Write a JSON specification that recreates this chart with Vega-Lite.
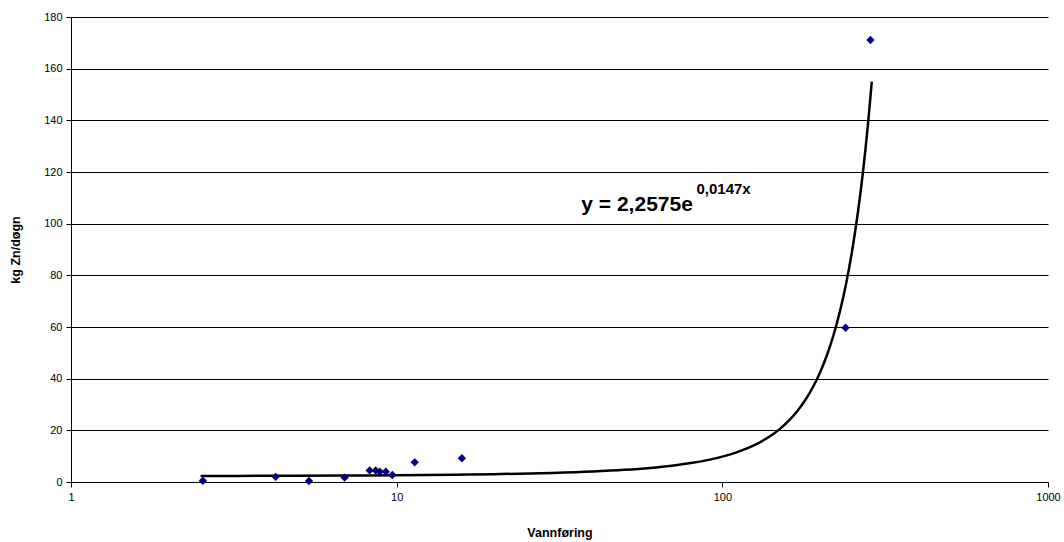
{
  "$schema": "https://vega.github.io/schema/vega-lite/v6.json",
  "width": 977,
  "height": 465,
  "autosize": "none",
  "padding": {"left": 71, "top": 17, "right": 16, "bottom": 60},
  "background": "white",
  "config": {
    "view": {"stroke": null},
    "font": "Liberation Sans",
    "axis": {"labelFont": "Liberation Sans", "titleFont": "Liberation Sans", "labelColor": "#000", "titleColor": "#000"}
  },
  "datasets": {
    "obs": [
      {"q": 2.54, "zn": 0.5},
      {"q": 4.25, "zn": 2.0},
      {"q": 5.38, "zn": 0.4},
      {"q": 6.92, "zn": 1.7},
      {"q": 8.26, "zn": 4.5},
      {"q": 8.62, "zn": 4.5},
      {"q": 8.87, "zn": 4.0},
      {"q": 9.26, "zn": 4.0},
      {"q": 9.7, "zn": 2.7},
      {"q": 11.36, "zn": 7.6},
      {"q": 15.86, "zn": 9.2},
      {"q": 239, "zn": 59.7},
      {"q": 285, "zn": 171.1}
    ],
    "trend": [
      {"q": 2.5, "zn": 2.342},
      {"q": 3, "zn": 2.359},
      {"q": 4, "zn": 2.394},
      {"q": 5, "zn": 2.43},
      {"q": 7, "zn": 2.502},
      {"q": 10, "zn": 2.615},
      {"q": 15, "zn": 2.814},
      {"q": 20, "zn": 3.029},
      {"q": 30, "zn": 3.509},
      {"q": 40, "zn": 4.064},
      {"q": 50, "zn": 4.708},
      {"q": 60, "zn": 5.453},
      {"q": 70, "zn": 6.317},
      {"q": 80, "zn": 7.318},
      {"q": 90, "zn": 8.476},
      {"q": 100, "zn": 9.818},
      {"q": 110, "zn": 11.373},
      {"q": 120, "zn": 13.174},
      {"q": 130, "zn": 15.26},
      {"q": 140, "zn": 17.677},
      {"q": 150, "zn": 20.476},
      {"q": 160, "zn": 23.718},
      {"q": 170, "zn": 27.474},
      {"q": 180, "zn": 31.824},
      {"q": 190, "zn": 36.865},
      {"q": 200, "zn": 42.703},
      {"q": 210, "zn": 49.464},
      {"q": 220, "zn": 57.298},
      {"q": 230, "zn": 66.371},
      {"q": 240, "zn": 76.882},
      {"q": 250, "zn": 89.056},
      {"q": 260, "zn": 103.16},
      {"q": 270, "zn": 119.49},
      {"q": 280, "zn": 138.42},
      {"q": 287.7, "zn": 155}
    ],
    "labels": [
      {"q": 36.9, "zn": 104.8, "txt": "y = 2,2575e", "kind": "main"},
      {"q": 83.3, "zn": 111.3, "txt": "0,0147x", "kind": "sup"}
    ]
  },
  "layer": [
    {
      "data": {"name": "trend"},
      "mark": {"type": "line", "color": "#000", "strokeWidth": 2.5, "interpolate": "monotone"},
      "encoding": {
        "x": {
          "field": "q", "type": "quantitative",
          "scale": {"type": "log", "domain": [1, 1000], "nice": false},
          "axis": {
            "title": "Vannføring", "titleFontSize": 12.5, "titleFontWeight": "bold", "titlePadding": 24,
            "values": [1, 10, 100, 1000], "format": "d", "labelFontSize": 11, "labelPadding": 4,
            "grid": false, "domainColor": "#000", "tickColor": "#000", "tickSize": 5, "labelFlush": false
          }
        },
        "y": {
          "field": "zn", "type": "quantitative",
          "scale": {"domain": [0, 180], "nice": false},
          "axis": {
            "title": "kg Zn/døgn", "titleFontSize": 12.5, "titleFontWeight": "bold", "titlePadding": 21,
            "values": [0, 20, 40, 60, 80, 100, 120, 140, 160, 180], "labelFontSize": 11, "labelPadding": 4,
            "grid": true, "gridColor": "#000", "gridOpacity": 1, "gridWidth": 1,
            "domainColor": "#000", "tickColor": "#000", "tickSize": 5
          }
        }
      }
    },
    {
      "data": {"name": "obs"},
      "mark": {"type": "point", "shape": "diamond", "filled": true, "color": "#000080", "size": 70, "opacity": 1},
      "encoding": {
        "x": {"field": "q", "type": "quantitative"},
        "y": {"field": "zn", "type": "quantitative"}
      }
    },
    {
      "data": {"name": "labels"},
      "transform": [{"filter": "datum.kind === 'main'"}],
      "mark": {"type": "text", "align": "left", "baseline": "alphabetic", "fontSize": 21, "fontWeight": "bold", "color": "#000"},
      "encoding": {
        "x": {"field": "q", "type": "quantitative"},
        "y": {"field": "zn", "type": "quantitative"},
        "text": {"field": "txt"}
      }
    },
    {
      "data": {"name": "labels"},
      "transform": [{"filter": "datum.kind === 'sup'"}],
      "mark": {"type": "text", "align": "left", "baseline": "alphabetic", "fontSize": 15, "fontWeight": "bold", "color": "#000"},
      "encoding": {
        "x": {"field": "q", "type": "quantitative"},
        "y": {"field": "zn", "type": "quantitative"},
        "text": {"field": "txt"}
      }
    }
  ]
}
